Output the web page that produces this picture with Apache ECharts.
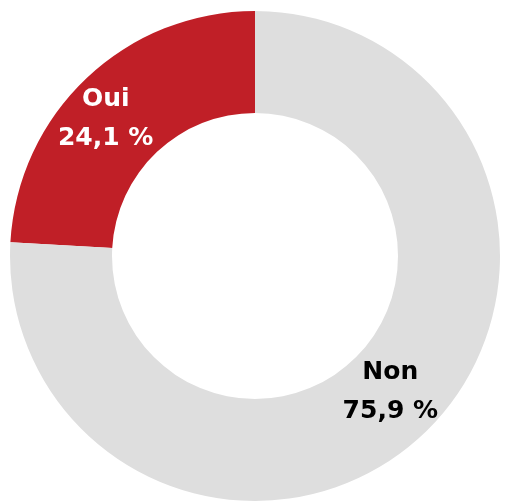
<!DOCTYPE html>
<html>
<head>
<meta charset="utf-8">
<script src="https://cdn.jsdelivr.net/npm/echarts@6/dist/echarts.min.js"></script>
<style>
  html, body { margin: 0; padding: 0; background: #fff; }
  #chart { width: 505px; height: 502px; }
</style>
</head>
<body>
<div id="chart"></div>
<script>
  var categories = ['Oui', 'Non'];
  var values = [24.1, 75.9];
  var colors = ['#C01F27', '#DEDEDE'];
  var labelColors = ['#ffffff', '#000000'];
  var labelOffsets = [[-14, 6], [0, -7]];

  var chart = echarts.init(document.getElementById('chart'));

  var data = categories.map(function (name, i) {
    return {
      name: name,
      value: values[i],
      itemStyle: { color: colors[i] },
      label: { color: labelColors[i], offset: labelOffsets[i] }
    };
  });

  chart.setOption({
    animation: false,
    series: [
      {
        type: 'pie',
        center: [255, 256],
        radius: [143, 245],
        startAngle: 90,
        clockwise: false,
        silent: true,
        itemStyle: { borderWidth: 0 },
        label: {
          show: true,
          position: 'inside',
          fontFamily: 'DejaVu Sans',
          fontWeight: 'bold',
          fontSize: 25,
          lineHeight: 39,
          align: 'center',
          formatter: function (p) {
            return p.name + '\n' + p.value.toFixed(1).replace('.', ',') + ' %';
          }
        },
        labelLine: { show: false },
        data: data
      }
    ]
  });
</script>
</body>
</html>
